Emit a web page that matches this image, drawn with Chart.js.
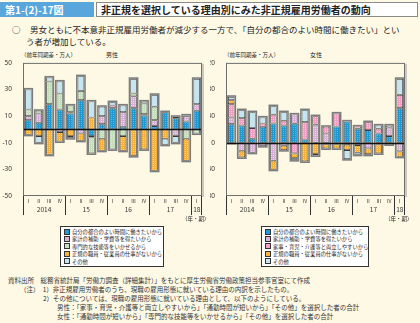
<!DOCTYPE html>
<html lang="ja">
<head>
<meta charset="utf-8">
<script src="https://cdn.jsdelivr.net/npm/chart.js@4.4.1/dist/chart.umd.min.js"></script>
<style>
  html, body { margin: 0; padding: 0; }
  body {
    width: 420px; height: 323px; position: relative; overflow: hidden;
    background: #fdf9e5; color: #222;
    font-family: 'Noto Sans CJK JP', 'Noto Sans', sans-serif;
  }
  .abs { position: absolute; white-space: nowrap; }
  #fig-no {
    left: 0; top: 2px; width: 94px; height: 15px; background: #58a6dc; color: #fff;
    font-weight: bold; font-size: 10px; line-height: 15px; padding-left: 5px; box-sizing: border-box;
  }
  #fig-title {
    left: 96px; top: 2px; width: 322px; height: 15px; background: #fff; border: 1px solid #8a8a8a;
    box-sizing: border-box; font-weight: bold; font-size: 10px; line-height: 13px; padding-left: 4px;
  }
  .lead { font-size: 8.5px; line-height: 12px; }
  .unit { font-size: 5.5px; top: 51px; }
  .sex { font-size: 6px; top: 50px; }
  .period { font-size: 5.5px; top: 215px; }
  .legend {
    top: 226px; height: 41px; background: #fff; border: 1px solid #333; box-sizing: border-box;
    padding: 2px 0 0 3px;
  }
  .legend .row { height: 7.4px; font-size: 5.3px; line-height: 7.4px; }
  .legend .sw {
    display: inline-block; width: 4px; height: 4px; border: 1px solid #333;
    vertical-align: middle; margin-right: 2px; position: relative; top: -1px;
  }
  .note { font-size: 6.5px; line-height: 9px; color: #333; }
  canvas { position: absolute; }
</style>
</head>
<body>
<div id="fig-no" class="abs">第1-(2)-17図</div>
<div id="fig-title" class="abs">非正規を選択している理由別にみた非正規雇用労働者の動向</div>

<div class="abs lead" style="left:12px; top:23px;">○</div>
<div class="abs lead" style="left:30px; top:23px;">男女ともに不本意非正規雇用労働者が減少する一方で、「自分の都合のよい時間に働きたい」とい</div>
<div class="abs lead" style="left:26px; top:35px;">う者が増加している。</div>

<div class="abs unit" style="left:21px;">（前年同期差・万人）</div>
<div class="abs sex" style="left:106px;">男性</div>
<div class="abs unit" style="left:224px;">（前年同期差・万人）</div>
<div class="abs sex" style="left:310px;">女性</div>

<canvas id="men-chart" width="210" height="164" style="left:0; top:56px;"></canvas>
<canvas id="women-chart" width="210" height="164" style="left:210px; top:56px;"></canvas>

<div class="abs period" style="left:182px;">（年・期）</div>
<div class="abs period" style="left:385px;">（年・期）</div>

<div id="men-legend" class="abs legend" style="left:60px; width:104px;"></div>
<div id="women-legend" class="abs legend" style="left:261px; width:108px;"></div>

<div class="abs note" style="left:8px; top:276px;">資料出所　総務省統計局「労働力調査（詳細集計）」をもとに厚生労働省労働政策担当参事官室にて作成</div>
<div class="abs note" style="left:20px; top:285px;">（注）　1）非正規雇用労働者のうち、現職の雇用形態に就いている理由の内訳を示したもの。</div>
<div class="abs note" style="left:43px; top:294px;">2）その他については、現職の雇用形態に就いている理由として、以下のようにしている。</div>
<div class="abs note" style="left:57px; top:303px;">男性：「家事・育児・介護等と両立しやすいから」「通勤時間が短いから」「その他」を選択した者の合計</div>
<div class="abs note" style="left:57px; top:312px;">女性：「通勤時間が短いから」「専門的な技能等をいかせるから」「その他」を選択した者の合計</div>

<script>
(function() {
  'use strict';

  // ── Categories ──
  var quarters = ['Ⅰ', 'Ⅱ', 'Ⅲ', 'Ⅳ', 'Ⅰ', 'Ⅱ', 'Ⅲ', 'Ⅳ', 'Ⅰ', 'Ⅱ', 'Ⅲ', 'Ⅳ', 'Ⅰ', 'Ⅱ', 'Ⅲ', 'Ⅳ', 'Ⅰ'];
  var years = ['2014', '15', '16', '17', '18'];

  // ── Men (前年同期差・万人) ──
  var menLabels = [
    '自分の都合のよい時間に働きたいから',
    '家計の補助・学費等を得たいから',
    '専門的な技能等をいかせるから',
    '正規の職員・従業員の仕事がないから',
    'その他'
  ];
  var menConvenient = [7, 5, 19, 15, 12, 22, -5, 4, 16, 2, 16, 10.5, 2.5, 13, 8.5, 6, 14];
  var menHousehold  = [3, 7, 0, -2, 1, -3, -1, 6, 2, 11, 9, 1, 4.5, 0, -5, 4, 5];
  var menSkills     = [5, 2, 17, 12, 5, 7, -12, -7, -15, -5, 2, 8, 10, 0, 0, -7, -3];
  var menNoRegular  = [-4, -5, -19, -7, -5, -5.5, 9, -9, 0, -11, -20, -15, -31, -7, 1, -16.5, 0];
  var menOther      = [15, -5, 3, 9, -1.5, 11, 12, 7, 2.5, 5, 11, 1.5, 9, -4.5, -5, 0.5, 19];

  // ── Women (前年同期差・万人) ──
  var womenLabels = [
    '自分の都合のよい時間に働きたいから',
    '家計の補助・学費等を得たいから',
    '家事・育児・介護等と両立しやすいから',
    '正規の職員・従業員の仕事がないから',
    'その他'
  ];
  var womenConvenient = [28, 26, 6, 24, 29, 26, 28.5, 5, 0, -2.5, 24.5, 32, 21, 19, 14, 10, 52];
  var womenHousehold  = [10, -12, -15, -5, -27, -4.5, 14, 0, 27, 14, -2.5, -3, -3.5, -8.5, -2.5, 13, -13];
  var womenFamily     = [20, 11, 16, 5, 13, 7, -16, 26, 13, 10, 19.5, 0, 3.5, 12, 7, -2.5, 20];
  var womenNoRegular  = [6, -10, 0, 0, -13.5, -6.5, -7, -28, -17, -6, -6, -8, -11.5, -8.5, -13.5, 0, -8];
  var womenOther      = [5, 12, 24, 9, 13, 13, -3, 18, -2, 0, 0, -13.5, -3, -1, 5, 3, 24];

  // ── Axis ranges ──
  var menTicks = { min: -50, max: 50, step: 20 };
  var womenTicks = { min: -80, max: 120, step: 40 };

  // ── Fill styles (fine dotted texture) ──
  function dotted(base, dot) {
    var c = document.createElement('canvas');
    c.width = 2; c.height = 2;
    var g = c.getContext('2d');
    g.fillStyle = base; g.fillRect(0, 0, 2, 2);
    g.fillStyle = dot; g.fillRect(1, 1, 1, 1);
    return g.createPattern(c, 'repeat');
  }
  var COL = {
    blue:     { swatch: '#229bd4', fill: dotted('#1f98d2', '#5bb5e2') },
    lavender: { swatch: '#d8b6da', fill: dotted('#d4b0d7', '#ead8ec') },
    green:    { swatch: '#c8e1c2', fill: dotted('#c3ddbc', '#dcecd8') },
    pink:     { swatch: '#f1a4c8', fill: dotted('#ee9dc3', '#f8c8de') },
    orange:   { swatch: '#f6b542', fill: dotted('#f5b139', '#fbd489') },
    sky:      { swatch: '#c4e5f1', fill: '#c4e5f1' }
  };

  // ── Draws stack outline, frame, zero line, two-level x labels ──
  var framePlugin = {
    id: 'frame',
    afterDatasetsDraw: function(chart) {
      var ctx = chart.ctx;
      var area = chart.chartArea;
      var xs = chart.scales.x;
      var ys = chart.scales.y;
      var n = chart.data.labels.length;

      // outline round each stacked bar
      for (var i = 0; i < n; i++) {
        var top = Infinity, bot = -Infinity, bx = 0, bw = 0;
        for (var d = 0; d < chart.data.datasets.length; d++) {
          var el = chart.getDatasetMeta(d).data[i];
          if (!el || !chart.data.datasets[d].data[i]) continue;
          top = Math.min(top, el.y, el.base);
          bot = Math.max(bot, el.y, el.base);
          bx = el.x; bw = el.width;
        }
        if (top === Infinity) continue;
        ctx.save();
        ctx.strokeStyle = '#7d7d7d';
        ctx.lineWidth = 1.6;
        ctx.strokeRect(bx - bw / 2 - 0.8, top - 0.8, bw + 1.6, bot - top + 1.6);
        ctx.restore();
      }

      ctx.save();
      // zero line
      var y0 = Math.round(ys.getPixelForValue(0)) + 0.5;
      ctx.strokeStyle = '#111';
      ctx.lineWidth = 1.4;
      ctx.beginPath();
      ctx.moveTo(area.left, y0);
      ctx.lineTo(area.right, y0);
      ctx.stroke();

      // plot frame
      ctx.strokeStyle = '#6f6f6f';
      ctx.lineWidth = 1;
      ctx.strokeRect(area.left + 0.5, area.top + 0.5, area.right - area.left - 1, area.bottom - area.top - 1);
      ctx.strokeStyle = '#9a9a9a';
      ctx.beginPath();
      ctx.moveTo(area.right + 1, area.top + 1);
      ctx.lineTo(area.right + 1, area.bottom + 1);
      ctx.stroke();

      // quarter labels
      ctx.fillStyle = '#333';
      ctx.textAlign = 'center';
      ctx.textBaseline = 'middle';
      ctx.font = '5px "Noto Sans CJK JP", sans-serif';
      for (var q = 0; q < n; q++) {
        ctx.fillText(chart.data.labels[q], xs.getPixelForValue(q), area.bottom + 5.5);
      }

      // year groups: separators + labels
      var starts = [];
      for (var k = 0; k < n; k++) if (chart.data.labels[k] === 'Ⅰ') starts.push(k);
      ctx.strokeStyle = '#333';
      ctx.lineWidth = 1;
      ctx.font = '6.5px "Noto Sans CJK JP", sans-serif';
      for (var g = 0; g < starts.length; g++) {
        var s = starts[g];
        var e = g + 1 < starts.length ? starts[g + 1] - 1 : n - 1;
        var left = s === 0 ? area.left : (xs.getPixelForValue(s - 1) + xs.getPixelForValue(s)) / 2;
        var right = e === n - 1 ? area.right : (xs.getPixelForValue(e) + xs.getPixelForValue(e + 1)) / 2;
        ctx.beginPath();
        ctx.moveTo(Math.round(left) + 0.5, area.bottom);
        ctx.lineTo(Math.round(left) + 0.5, area.bottom + 19);
        ctx.stroke();
        if (e === n - 1) {
          ctx.beginPath();
          ctx.moveTo(Math.round(right) - 0.5, area.bottom);
          ctx.lineTo(Math.round(right) - 0.5, area.bottom + 19);
          ctx.stroke();
        }
        ctx.fillText(years[g], (xs.getPixelForValue(s) + xs.getPixelForValue(e)) / 2, area.bottom + 13.5);
      }
      ctx.restore();
    }
  };

  // ── Build one chart ──
  function buildChart(id, labels, series, colors, range, axisWidth, padRight) {
    var datasets = [];
    for (var i = 0; i < series.length; i++) {
      datasets.push({
        label: labels[i],
        data: series[i],
        backgroundColor: COL[colors[i]].fill,
        borderColor: '#3a3a3a',
        borderWidth: 0.8,
        borderSkipped: false,
        barPercentage: 0.62,
        categoryPercentage: 1
      });
    }
    return new Chart(document.getElementById(id), {
      type: 'bar',
      data: { labels: quarters, datasets: datasets },
      options: {
        responsive: false,
        animation: false,
        events: [],
        layout: { padding: { top: 6, right: padRight, bottom: 24, left: 0 } },
        plugins: { legend: { display: false }, tooltip: { enabled: false } },
        scales: {
          x: { stacked: true, display: false },
          y: {
            stacked: true,
            min: range.min,
            max: range.max,
            afterFit: function(s) { s.width = axisWidth; },
            ticks: {
              stepSize: range.step,
              padding: 3,
              color: '#333',
              font: { size: 6.5, family: "'Noto Sans', sans-serif" }
            },
            grid: { display: false },
            border: { display: false }
          }
        }
      },
      plugins: [framePlugin]
    });
  }

  // ── Legend boxes ──
  function buildLegend(id, labels, colors) {
    var html = '';
    for (var i = 0; i < labels.length; i++) {
      html += '<div class="row"><span class="sw" style="background:' + COL[colors[i]].swatch + ';"></span>' + labels[i] + '</div>';
    }
    document.getElementById(id).innerHTML = html;
  }

  var menColors = ['blue', 'lavender', 'green', 'orange', 'sky'];
  var womenColors = ['blue', 'lavender', 'pink', 'orange', 'sky'];

  buildChart('men-chart', menLabels,
    [menConvenient, menHousehold, menSkills, menNoRegular, menOther],
    menColors, menTicks, 23, 8);
  buildChart('women-chart', womenLabels,
    [womenConvenient, womenHousehold, womenFamily, womenNoRegular, womenOther],
    womenColors, womenTicks, 16, 15);

  buildLegend('men-legend', menLabels, menColors);
  buildLegend('women-legend', womenLabels, womenColors);
})();
</script>
</body>
</html>
